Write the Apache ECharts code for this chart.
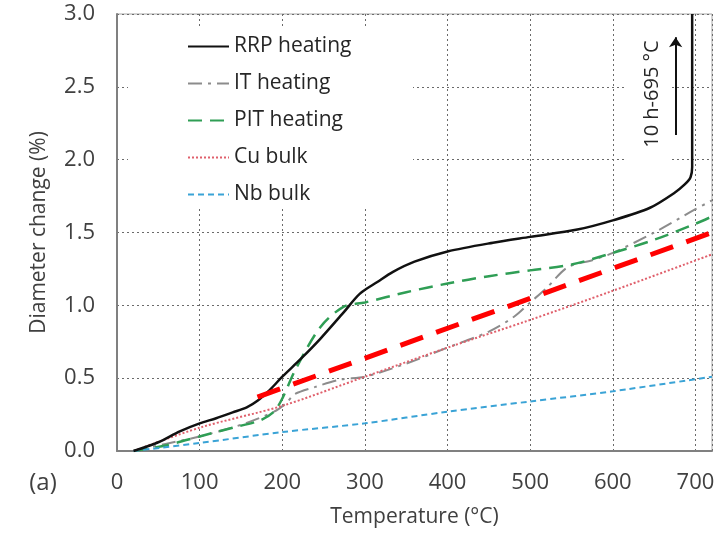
<!DOCTYPE html>
<html>
<head>
<meta charset="utf-8">
<script src="https://cdn.jsdelivr.net/npm/echarts@6/dist/echarts.min.js"></script>
<style>
  html, body { margin: 0; padding: 0; background: #fff; }
  #main { width: 728px; height: 535px; }
</style>
</head>
<body>
<div id="main"></div>
<script>
// curve readings: temperature (°C) and diameter change (%)
var rrpT = [20, 50, 76, 100, 120, 140, 157, 170, 185, 200, 222, 246, 274, 294, 315, 334, 360, 400, 455, 500, 557, 601, 645, 674, 687, 694, 696, 696];
var rrpV = [0, 0.06, 0.135, 0.19, 0.225, 0.265, 0.30, 0.345, 0.42, 0.51, 0.63, 0.77, 0.95, 1.08, 1.16, 1.23, 1.30, 1.37, 1.43, 1.47, 1.52, 1.585, 1.67, 1.77, 1.83, 1.88, 1.95, 3.0];

var itT = [20, 60, 100, 150, 190, 205, 215, 240, 270, 300, 350, 400, 450, 480, 500, 520, 545, 575, 600, 650, 700, 720];
var itV = [0, 0.05, 0.1, 0.18, 0.27, 0.33, 0.39, 0.44, 0.49, 0.51, 0.6, 0.71, 0.82, 0.92, 1.02, 1.12, 1.26, 1.31, 1.36, 1.5, 1.66, 1.72];

var pitT = [20, 60, 100, 140, 173, 190, 200, 216, 246, 274, 300, 350, 400, 450, 500, 550, 600, 650, 700, 720];
var pitV = [0, 0.04, 0.1, 0.16, 0.21, 0.27, 0.36, 0.56, 0.85, 0.99, 1.02, 1.09, 1.15, 1.2, 1.24, 1.28, 1.36, 1.45, 1.56, 1.61];

var cuT = [20, 100, 200, 300, 400, 500, 600, 720];
var cuV = [0, 0.16, 0.31, 0.51, 0.71, 0.9, 1.1, 1.35];

var nbT = [20, 100, 200, 300, 400, 500, 600, 720];
var nbV = [0, 0.055, 0.13, 0.19, 0.27, 0.34, 0.41, 0.51];

// the thick red guide line
var redT = [170, 720];
var redV = [0.37, 1.5];

// arrow next to the annotation
var arrowT = [676, 676];
var arrowV = [2.17, 2.84];

var seriesNames = ['RRP heating', 'IT heating', 'PIT heating', 'Cu bulk', 'Nb bulk'];

//把两个数组拼成点
function pairs(xs, ys) {
    var out = [];
    xs.forEach(function (x, i) { out.push([x, ys[i]]); });
    return out;
}

var FONT = 'Open Sans';
var chart = echarts.init(document.getElementById('main'));

chart.setOption({
    animation: false,
    backgroundColor: '#fff',
    grid: {
        left: 117, right: 16, top: 14, bottom: 84,
        show: true, borderColor: '#a6a6a6', borderWidth: 1
    },
    legend: {
        data: seriesNames,
        orient: 'vertical',
        left: 187, top: 36,
        padding: 0,
        itemWidth: 41, itemHeight: 16, itemGap: 16,
        z: 10,
        itemStyle: { opacity: 0 },
        textStyle: { fontFamily: FONT, fontSize: 21, color: '#262626', lineHeight: 20 }
    },
    xAxis: {
        type: 'value', min: 0, max: 720, interval: 100,
        name: 'Temperature (°C)', nameLocation: 'middle', nameGap: 56,
        nameTextStyle: { fontFamily: FONT, fontSize: 21, color: '#404040' },
        axisLine: { lineStyle: { color: '#808080', width: 2 } },
        axisTick: { show: false },
        axisLabel: { showMaxLabel: false, margin: 21, fontFamily: FONT, fontSize: 22, color: '#404040' },
        splitLine: { lineStyle: { color: '#6a6a6a', type: [2, 3], width: 1 } }
    },
    yAxis: {
        type: 'value', min: 0, max: 3, interval: 0.5,
        name: 'Diameter change (%)', nameLocation: 'middle', nameGap: 67,
        nameTextStyle: { fontFamily: FONT, fontSize: 21, color: '#404040' },
        axisLine: { show: true, lineStyle: { color: '#808080', width: 2 } },
        axisTick: { show: false },
        axisLabel: {
            margin: 22, fontFamily: FONT, fontSize: 22, color: '#404040',
            formatter: function (v) { return v.toFixed(1); }
        },
        splitLine: { lineStyle: { color: '#6a6a6a', type: [2, 3], width: 1 } }
    },
    graphic: [
        // white areas behind legend and annotation (grid hidden there)
        { type: 'rect', z: 3, shape: { x: 128, y: 29, width: 285, height: 177 }, style: { fill: '#fff' } },
        { type: 'rect', z: 3, shape: { x: 626, y: 26, width: 46, height: 150 }, style: { fill: '#fff' } },
        {
            type: 'text', z: 4, x: 652, y: 94, rotation: Math.PI / 2,
            style: { text: '10 h-695 °C', fontFamily: FONT, fontSize: 20, fill: '#262626', align: 'center', verticalAlign: 'middle' }
        },
        {
            type: 'text', z: 4, x: 43, y: 483,
            style: { text: '(a)', fontFamily: FONT, fontSize: 24, fill: '#404040', align: 'center', verticalAlign: 'middle' }
        }
    ],
    series: [
        {
            name: 'RRP heating', type: 'line', symbol: 'none', smooth: 0.3, z: 6,
            data: pairs(rrpT, rrpV),
            lineStyle: { color: '#111', width: 2.5 }, itemStyle: { color: '#111' },
            markLine: {
                silent: true, symbol: ['none', 'arrow'], symbolSize: 10,
                label: { show: false },
                lineStyle: { color: '#111', width: 2, type: 'solid' },
                data: [[{ coord: [arrowT[0], arrowV[0]] }, { coord: [arrowT[1], arrowV[1]] }]]
            }
        },
        {
            name: 'IT heating', type: 'line', symbol: 'none', smooth: 0.3, z: 5,
            data: pairs(itT, itV),
            lineStyle: { color: '#8c8c8c', width: 2, type: [14, 6, 3, 6] }, itemStyle: { color: '#8c8c8c' }
        },
        {
            name: 'PIT heating', type: 'line', symbol: 'none', smooth: 0.3, z: 5,
            data: pairs(pitT, pitV),
            lineStyle: { color: '#2f9e55', width: 2.5, type: [14, 8] }, itemStyle: { color: '#2f9e55' }
        },
        {
            name: 'Cu bulk', type: 'line', symbol: 'none', smooth: 0.3, z: 5,
            data: pairs(cuT, cuV),
            lineStyle: { color: '#e0606c', width: 2, type: [2, 2] }, itemStyle: { color: '#e0606c' }
        },
        {
            name: 'Nb bulk', type: 'line', symbol: 'none', smooth: 0.3, z: 5,
            data: pairs(nbT, nbV),
            lineStyle: { color: '#3aa3d6', width: 2, type: [6, 4] }, itemStyle: { color: '#3aa3d6' }
        },
        {
            name: 'guide', type: 'line', symbol: 'none', z: 7,
            data: pairs(redT, redV),
            lineStyle: { color: '#ff0000', width: 5, type: [24, 14] }
        }
    ]
});
</script>
</body>
</html>
